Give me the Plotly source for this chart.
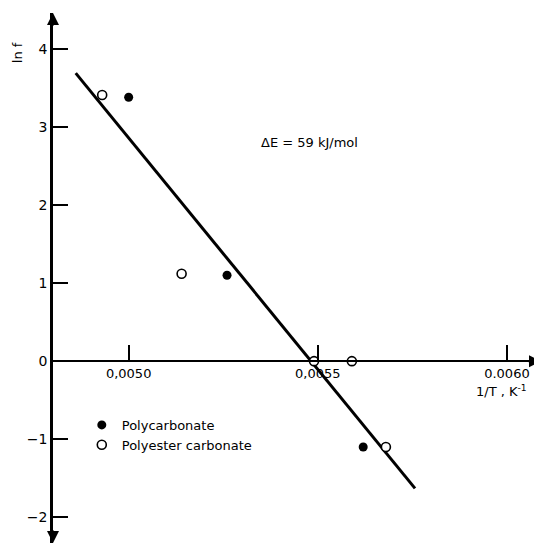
import plotly.graph_objects as go

# Data
pc_x = [0.00500, 0.00526, 0.00562]
pc_y = [3.38, 1.10, -1.10]
pe_x = [0.00493, 0.00514, 0.00549, 0.00559, 0.00568]
pe_y = [3.41, 1.12, 0.0, 0.0, -1.10]
fit_x = [0.00486, 0.005757]
fit_y = [3.69, -1.63]
x_tickvals = [0.0050, 0.0055, 0.0060]
x_ticktext = ["0,0050", "0,0055", "0.0060"]
y_tickvals = [-2, -1, 0, 1, 2, 3, 4]
x_range = [0.0048, 0.00609]
y_range = [-2.33, 4.46]

FONT = "DejaVu Sans"

fig = go.Figure()
fig.add_trace(go.Scatter(x=fit_x, y=fit_y, mode="lines",
                         line=dict(color="black", width=3), showlegend=False))
fig.add_trace(go.Scatter(x=pc_x, y=pc_y, mode="markers", name="Polycarbonate",
                         marker=dict(symbol="circle", size=9, color="black")))
fig.add_trace(go.Scatter(x=pe_x, y=pe_y, mode="markers", name="Polyester carbonate",
                         marker=dict(symbol="circle", size=9, color="white",
                                     line=dict(color="black", width=1.6))))

xpos = (0 - y_range[0]) / (y_range[1] - y_range[0])

fig.update_layout(
    width=534, height=538,
    margin=dict(l=45, r=1, t=5, b=3, autoexpand=False),
    paper_bgcolor="white", plot_bgcolor="white",
    font=dict(family=FONT, size=13, color="black"),
    xaxis=dict(range=x_range, anchor="free", position=xpos,
               showline=True, linecolor="black", linewidth=2,
               ticks="inside", ticklen=15, tickwidth=1.5, tickcolor="black",
               tickvals=x_tickvals, ticktext=x_ticktext,
               showgrid=False, zeroline=False, automargin=False,
               tickfont=dict(family=FONT, size=13)),
    yaxis=dict(range=y_range, showline=True, linecolor="black", linewidth=2.5,
               ticks="inside", ticklen=15, tickwidth=1.5, tickcolor="black",
               tickvals=y_tickvals, showgrid=False, zeroline=False,
               automargin=False, tickfont=dict(family=FONT, size=14)),
    legend=dict(x=0.059, y=0.251, xanchor="left", yanchor="top",
                bgcolor="rgba(0,0,0,0)", font=dict(family=FONT, size=13),
                itemwidth=30, tracegroupgap=0),
    showlegend=True,
)

fig.add_annotation(text="ΔE = 59 kJ/mol", xref="paper", yref="paper",
                   x=0.5266, y=0.7566, showarrow=False,
                   xanchor="center", yanchor="middle",
                   font=dict(family=FONT, size=13))
fig.add_annotation(text="1/T , K<sup>-1</sup>", xref="paper", yref="paper",
                   x=0.920, y=0.287, showarrow=False,
                   xanchor="center", yanchor="middle",
                   font=dict(family=FONT, size=13))
fig.add_annotation(text="ln f", xref="paper", yref="paper",
                   x=-0.0738, y=0.926, showarrow=False, textangle=-90,
                   xanchor="center", yanchor="middle",
                   font=dict(family=FONT, size=13))

# Axis arrowheads
arrow = dict(text="", showarrow=True, arrowhead=2, arrowsize=1.2,
             arrowwidth=2, arrowcolor="black", standoff=0, startstandoff=0)
fig.add_annotation(x=x_range[0], y=y_range[1], xref="x", yref="y",
                   ax=0, ay=14, **arrow)
fig.add_annotation(x=x_range[0], y=y_range[0], xref="x", yref="y",
                   ax=0, ay=-14, **arrow)
fig.add_annotation(x=x_range[1], y=0, xref="x", yref="y",
                   ax=-14, ay=0, **arrow)

fig.write_html("out.html")
